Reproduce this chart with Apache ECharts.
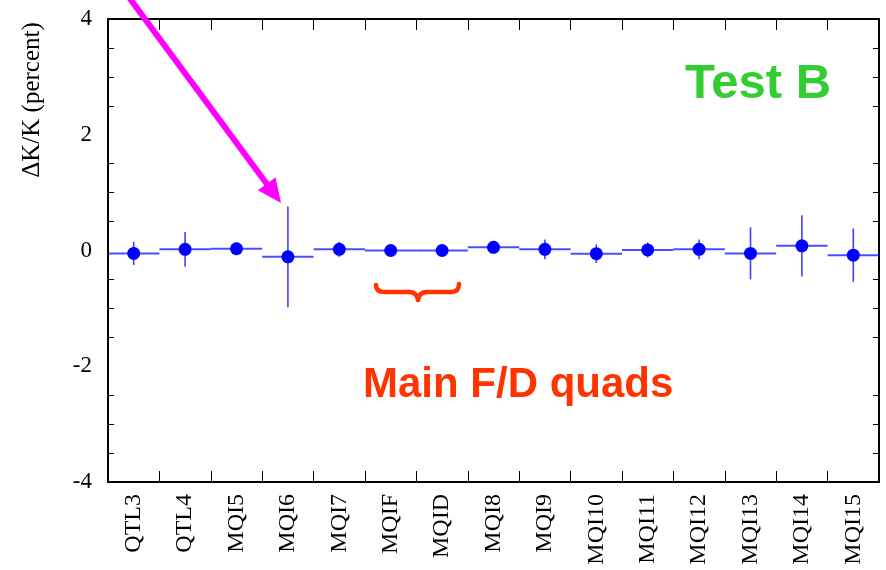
<!DOCTYPE html>
<html><head><meta charset="utf-8">
<script src="https://cdn.jsdelivr.net/npm/echarts@6/dist/echarts.min.js"></script>
<style>html,body{margin:0;padding:0;background:#fff}#c{width:886px;height:570px}</style>
</head><body><div id="c"></div>
<script>
const categories = ['QTL3','QTL4','MQI5','MQI6','MQI7','MQIF','MQID','MQI8','MQI9','MQI10','MQI11','MQI12','MQI13','MQI14','MQI15'];
const values = [-0.05, 0.02, 0.03, -0.11, 0.02, 0.0, 0.0, 0.055, 0.02, -0.055, 0.01, 0.02, -0.05, 0.08, -0.08];
const errors = [0.2, 0.3, 0.11, 0.87, 0.13, 0.02, 0.02, 0.03, 0.17, 0.16, 0.13, 0.17, 0.45, 0.53, 0.46];
const yTicks = [-4, -2, 0, 2, 4];

const chart = echarts.init(document.getElementById('c'), null, {renderer: 'canvas'});
const serif = '"Liberation Serif", "Times New Roman", serif';
const sans = '"Liberation Sans", Arial, sans-serif';
const blue = '#0000ff';
const orange = '#ff3300';

const errData = categories.map((c, i) => [i, values[i], errors[i]]);
const dotData = categories.map((c, i) => [i, values[i]]);

function arrowHead(x1, y1, x2, y2, len, half) {
  const dx = x2 - x1, dy = y2 - y1, L = Math.hypot(dx, dy);
  const ux = dx / L, uy = dy / L, px = -uy, py = ux;
  const bx = x2 - ux * len, by = y2 - uy * len;
  return [[x2, y2], [bx + px * half, by + py * half], [bx - px * half, by - py * half]];
}
const aStart = [128, -4], aTip = [281, 203];
const aL = Math.hypot(aTip[0]-aStart[0], aTip[1]-aStart[1]);
const head = arrowHead(aStart[0], aStart[1], aTip[0], aTip[1], 24, 11);
const lineEnd = [aTip[0] - (aTip[0]-aStart[0]) / aL * 20, aTip[1] - (aTip[1]-aStart[1]) / aL * 20];

const braceStyle = {stroke: orange, lineWidth: 4.5, fill: null, lineCap: 'round'};
const braceParts = [
  {type: 'bezierCurve', shape: {x1: 376, y1: 285, cpx1: 376, cpy1: 292, x2: 385, y2: 292}},
  {type: 'line', shape: {x1: 385, y1: 292, x2: 409, y2: 292}},
  {type: 'bezierCurve', shape: {x1: 409, y1: 292, cpx1: 417, cpy1: 292, x2: 418, y2: 300}},
  {type: 'bezierCurve', shape: {x1: 418, y1: 300, cpx1: 419, cpy1: 292, x2: 427, y2: 292}},
  {type: 'line', shape: {x1: 427, y1: 292, x2: 451, y2: 292}},
  {type: 'bezierCurve', shape: {x1: 451, y1: 292, cpx1: 459, cpy1: 292, x2: 459, y2: 284}}
].map(p => Object.assign(p, {style: braceStyle, z: 10}));

const option = {
  animation: false,
  backgroundColor: '#fff',
  grid: {left: 108, right: 7, top: 19, bottom: 88},
  xAxis: [{
    type: 'category', data: categories, boundaryGap: true,
    axisLine: {onZero: false, lineStyle: {color: '#000', width: 2}},
    axisTick: {show: true, interval: 0, inside: true, length: 11, lineStyle: {color: '#000', width: 1}},
    axisLabel: {interval: 0, rotate: 90, fontFamily: serif, fontSize: 24, color: '#000', margin: 12},
    splitLine: {show: false}
  }, {
    type: 'category', data: categories, position: 'top', boundaryGap: true,
    axisLine: {onZero: false, lineStyle: {color: '#000', width: 2}},
    axisTick: {show: true, interval: 0, inside: true, length: 11, lineStyle: {color: '#000', width: 1}},
    axisLabel: {show: false}, splitLine: {show: false}
  }],
  yAxis: [{
    type: 'value', min: -4, max: 4, interval: 2,
    axisLine: {show: true, onZero: false, lineStyle: {color: '#000', width: 2}},
    axisTick: {inside: true, length: 11, lineStyle: {color: '#000', width: 1}},
    minorTick: {show: true, splitNumber: 4, length: 6, lineStyle: {color: '#000', width: 1}},
    axisLabel: {fontFamily: serif, fontSize: 23, color: '#000', margin: 16,
      formatter: v => yTicks.includes(v) ? String(v) : ''},
    splitLine: {show: false}
  }, {
    type: 'value', min: -4, max: 4, interval: 2, position: 'right',
    axisLine: {show: true, onZero: false, lineStyle: {color: '#000', width: 2}},
    axisTick: {inside: true, length: 11, lineStyle: {color: '#000', width: 1}},
    minorTick: {show: true, splitNumber: 4, length: 6, lineStyle: {color: '#000', width: 1}},
    axisLabel: {show: false}, splitLine: {show: false}
  }],
  series: [{
    type: 'custom',
    data: errData,
    renderItem: function (params, api) {
      const i = api.value(0), v = api.value(1), e = api.value(2);
      const c = api.coord([i, v]);
      const w = api.size([1, 0])[0];
      const top = api.coord([i, v + e]), bot = api.coord([i, v - e]);
      return {
        type: 'group',
        children: [
          {type: 'line', shape: {x1: c[0] - w / 2, y1: c[1], x2: c[0] + w / 2, y2: c[1]},
            style: {stroke: blue, lineWidth: 2, opacity: 0.7}},
          {type: 'line', shape: {x1: c[0], y1: top[1], x2: c[0], y2: bot[1]},
            style: {stroke: blue, lineWidth: 1.6, opacity: 0.75}}
        ]
      };
    },
    z: 2
  }, {
    type: 'scatter', data: dotData, symbol: 'circle', symbolSize: 13,
    itemStyle: {color: blue, opacity: 1}, z: 3
  }],
  graphic: [
    {type: 'text', x: 685, y: 84, style: {text: 'Test B', fill: '#33cc33', font: 'bold 49px ' + sans, verticalAlign: 'middle'}},
    {type: 'text', x: 363, y: 385, style: {text: 'Main F/D quads', fill: orange, font: 'bold 42px ' + sans, verticalAlign: 'middle'}},
    {type: 'text', x: 32, y: 100, rotation: Math.PI / 2,
      style: {text: 'ΔK/K (percent)', fill: '#000', font: '25px ' + serif, align: 'center', verticalAlign: 'middle'}},
    {type: 'line', shape: {x1: aStart[0], y1: aStart[1], x2: lineEnd[0], y2: lineEnd[1]},
      style: {stroke: '#ff00ff', lineWidth: 6}, z: 10},
    {type: 'polygon', shape: {points: head}, style: {fill: '#ff00ff'}, z: 10}
  ].concat(braceParts)
};
chart.setOption(option);
</script></body></html>
